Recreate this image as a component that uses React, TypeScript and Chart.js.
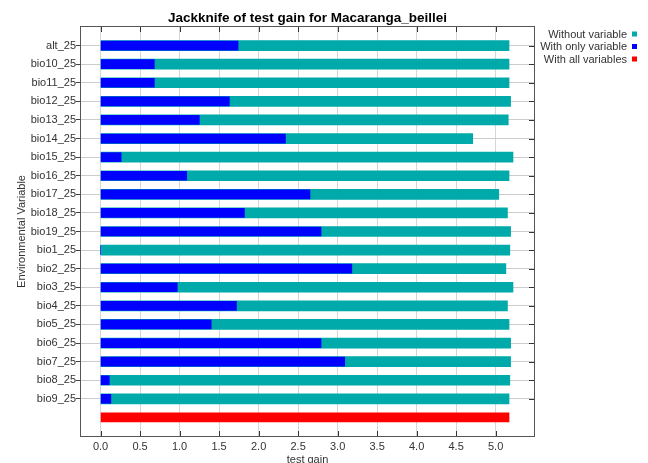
import React, { useEffect, useRef } from "react";
import { Chart, registerables } from "chart.js";

Chart.register(...registerables);

const TITLE = "Jackknife of test gain for Macaranga_beillei";
const VARIABLES = [
  "alt_25", "bio10_25", "bio11_25", "bio12_25", "bio13_25", "bio14_25", "bio15_25",
  "bio16_25", "bio17_25", "bio18_25", "bio19_25", "bio1_25", "bio2_25", "bio3_25",
  "bio4_25", "bio5_25", "bio6_25", "bio7_25", "bio8_25", "bio9_25",
];
const WITHOUT_VARIABLE = [
  5.17, 5.17, 5.17, 5.19, 5.16, 4.71, 5.22, 5.17, 5.04, 5.15,
  5.19, 5.18, 5.13, 5.22, 5.15, 5.17, 5.19, 5.19, 5.18, 5.17,
];
const WITH_ONLY_VARIABLE = [
  1.74, 0.68, 0.68, 1.63, 1.25, 2.34, 0.26, 1.09, 2.65, 1.82,
  2.79, 0, 3.18, 0.97, 1.72, 1.40, 2.79, 3.09, 0.11, 0.13,
];
const WITH_ALL_VARIABLES = 5.17;
const X_TICKS = [0, 0.5, 1, 1.5, 2, 2.5, 3, 3.5, 4, 4.5, 5];
const X_MIN = -0.248;
const X_MAX = 5.486;

const CYAN = "rgb(0,170,170)";
const BLUE = "rgb(0,0,255)";
const RED = "rgb(255,0,0)";
const FONT = "'Liberation Sans', Arial, sans-serif";
const TEXT = "#333333";

// category slots: one blank at top, the variables, the "all" row, one blank at bottom
const LABELS = ["", ...VARIABLES, "", ""];
const ALL_INDEX = VARIABLES.length + 1;

const pad = (arr: number[]) => [null, ...arr, null, null];

const framePlugin = {
  id: "frame",
  afterDraw(chart: any) {
    const { ctx, chartArea: ca, scales } = chart;
    ctx.save();
    ctx.strokeStyle = "#555555";
    ctx.lineWidth = 1;
    ctx.strokeRect(ca.left - 0.5, ca.top - 0.5, ca.right - ca.left + 1, ca.bottom - ca.top + 1);
    // inside tick marks on top and right edges
    ctx.strokeStyle = "#333333";
    ctx.beginPath();
    X_TICKS.forEach((v) => {
      const x = Math.round(scales.x.getPixelForValue(v)) + 0.5;
      ctx.moveTo(x, ca.top);
      ctx.lineTo(x, ca.top + 5);
      ctx.moveTo(x, ca.bottom);
      ctx.lineTo(x, ca.bottom - 5);
    });
    LABELS.forEach((l, i) => {
      if (!l) return;
      const y = Math.round(scales.y.getPixelForValue(i)) + 0.5;
      ctx.moveTo(ca.right - 5, y);
      ctx.lineTo(ca.right, y);
    });
    ctx.stroke();

    // legend
    const ds = chart.data.datasets;
    const items = [
      { label: ds[1].label, color: CYAN },
      { label: ds[0].label, color: BLUE },
      { label: ds[2].label, color: RED },
    ];
    const ys = [34.5, 47, 59.5];
    ctx.font = `11px ${FONT}`;
    ctx.textAlign = "right";
    ctx.textBaseline = "middle";
    items.forEach((it, i) => {
      ctx.fillStyle = TEXT;
      ctx.fillText(it.label, 627, ys[i]);
      ctx.fillStyle = it.color;
      ctx.fillRect(632, ys[i] - 3, 5, 5);
    });
    ctx.restore();
  },
};

export default function App() {
  const ref = useRef<HTMLCanvasElement | null>(null);

  useEffect(() => {
    if (!ref.current) return;
    const redData: (number | null)[] = LABELS.map(() => null);
    redData[ALL_INDEX] = WITH_ALL_VARIABLES;

    const chart = new Chart(ref.current, {
      type: "bar",
      data: {
        labels: LABELS,
        datasets: [
          {
            label: "With only variable",
            data: pad(WITH_ONLY_VARIABLE),
            backgroundColor: BLUE,
            barThickness: 9,
            grouped: false,
          } as any,
          {
            label: "Without variable",
            data: pad(WITHOUT_VARIABLE),
            backgroundColor: CYAN,
            barThickness: 10,
            grouped: false,
          } as any,
          {
            label: "With all variables",
            data: redData,
            backgroundColor: RED,
            barThickness: 9,
            grouped: false,
          } as any,
        ],
      },
      options: {
        indexAxis: "y",
        animation: false,
        responsive: false,
        layout: { padding: { left: 0, right: 114, top: 0, bottom: 0 } },
        plugins: {
          legend: { display: false },
          tooltip: { enabled: false },
          title: {
            display: true,
            text: TITLE,
            fullSize: false,
            color: "#000000",
            font: { family: FONT, size: 13.5, weight: "bold" },
            padding: { top: 10.2, bottom: 0.6 },
          },
        },
        scales: {
          x: {
            type: "linear",
            min: X_MIN,
            max: X_MAX,
            afterBuildTicks: (scale: any) => {
              scale.ticks = X_TICKS.map((v) => ({ value: v }));
            },
            afterFit: (scale: any) => {
              scale.height = 27;
            },
            ticks: {
              color: TEXT,
              font: { family: FONT, size: 11 },
              padding: 4,
              callback: (v: any) => Number(v).toFixed(1),
            },
            grid: { color: "#d6d6d6", lineWidth: 1, drawTicks: false },
            border: { display: false },
            title: {
              display: true,
              text: "test gain",
              color: TEXT,
              font: { family: FONT, size: 11 },
              padding: { top: 0, bottom: -4 },
            },
          },
          y: {
            type: "category",
            offset: false,
            afterFit: (scale: any) => {
              scale.width = 81;
            },
            ticks: {
              color: TEXT,
              font: { family: FONT, size: 11 },
              padding: 0,
              autoSkip: false,
            },
            grid: {
              offset: false,
              color: (c: any) => (LABELS[c.index] ? "#cccccc" : "rgba(0,0,0,0)"),
              tickColor: (c: any) => (LABELS[c.index] ? "#444444" : "rgba(0,0,0,0)"),
              tickLength: 5,
              lineWidth: 1,
            },
            border: { display: false },
            title: {
              display: true,
              text: "Environmental Variable",
              color: TEXT,
              font: { family: FONT, size: 11 },
              padding: { top: 15, bottom: 0 },
            },
          },
        },
      },
      plugins: [framePlugin],
    } as any);
    return () => chart.destroy();
  }, []);

  return (
    <div style={{ position: "fixed", left: 0, top: 0, width: 648, height: 463, overflow: "hidden", background: "#ffffff" }}>
      <canvas ref={ref} width={648} height={463} style={{ display: "block" }} />
    </div>
  );
}
